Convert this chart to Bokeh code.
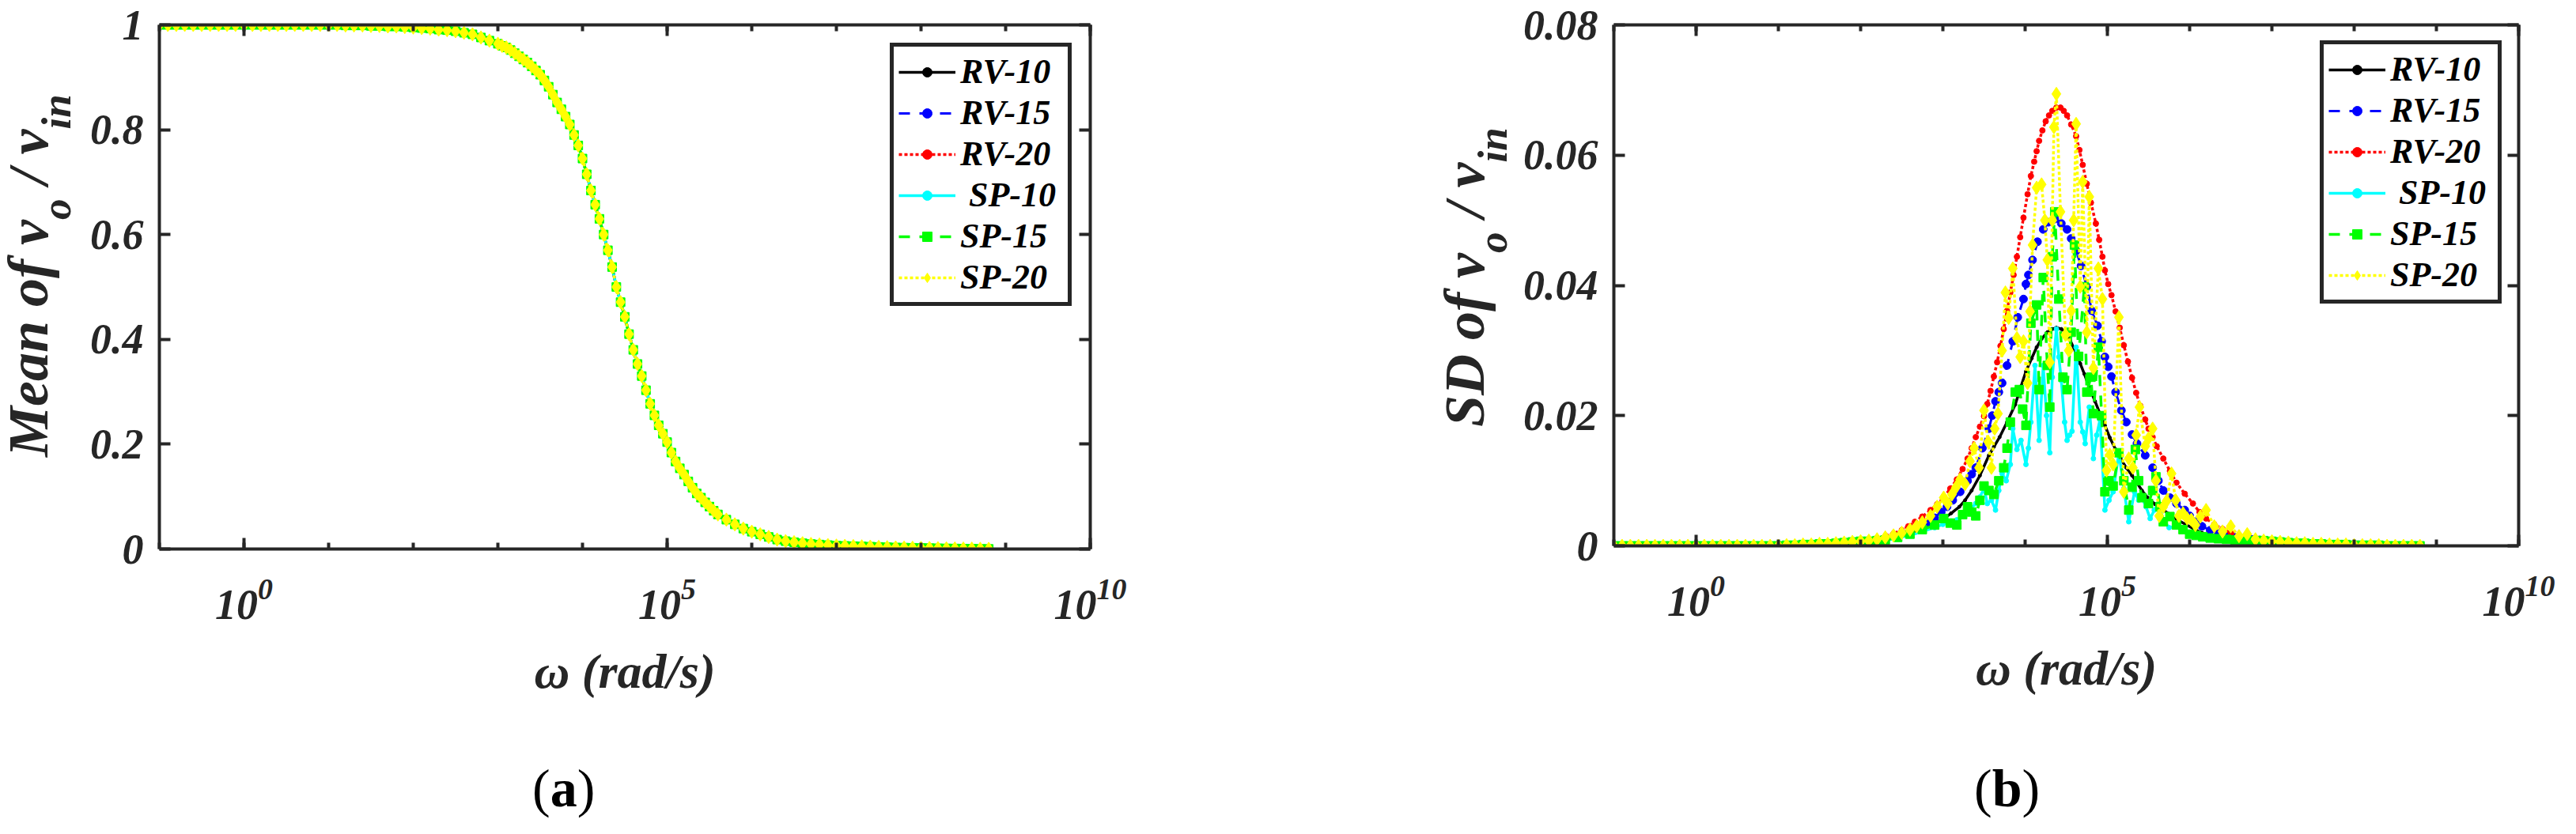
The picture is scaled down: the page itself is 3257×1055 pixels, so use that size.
import numpy as np
from bokeh.plotting import figure
from bokeh.models import (Range1d, FixedTicker, LinearAxis, LogAxis, Legend,
                          LegendItem, Div)
from bokeh.layouts import row, column
from bokeh.embed import file_html
from bokeh.resources import INLINE

FONT = "Liberation Serif"
AX = "#262626"

# ---------------- data ----------------
series_names = ["RV-10", "RV-15", "RV-20", "SP-10", "SP-15", "SP-20"]
legend_labels = ["RV-10", "RV-15", "RV-20", "\u00a0SP-10", "SP-15", "SP-20"]

# (a) mean of vo/vin: the six series coincide (one reading, log10 of omega)
mean_log_w = [-1.0, -0.9, -0.8, -0.7, -0.6, -0.5, -0.4, -0.3, -0.2, -0.1, 0.0,
              0.1, 0.2, 0.3, 0.4, 0.5, 0.6, 0.7, 0.8, 0.9, 1.0,
              1.1, 1.2, 1.3, 1.4, 1.5, 1.6, 1.7, 1.8, 1.9, 2.0,
              2.1, 2.2, 2.3, 2.4, 2.5, 2.6, 2.7, 2.8, 2.9,
              3.0, 3.05, 3.1, 3.15, 3.2, 3.25, 3.3, 3.35, 3.4, 3.45,
              3.5, 3.55, 3.6, 3.65, 3.7, 3.75, 3.8, 3.85, 3.9, 3.95,
              4.0, 4.05, 4.1, 4.15, 4.2, 4.25, 4.3, 4.35, 4.4, 4.45,
              4.5, 4.55, 4.6, 4.65, 4.7, 4.75, 4.8, 4.85, 4.9, 4.95,
              5.0, 5.05, 5.1, 5.15, 5.2, 5.25, 5.3, 5.35, 5.4, 5.45,
              5.5, 5.55, 5.6,
              5.7, 5.8, 5.9, 6.0, 6.1, 6.2, 6.3, 6.4, 6.5, 6.6, 6.7, 6.8, 6.9,
              7.0, 7.1, 7.2, 7.3, 7.4, 7.5, 7.6, 7.7, 7.8, 7.9, 8.0, 8.1, 8.2,
              8.3, 8.4, 8.5, 8.6, 8.7, 8.8]
mean_vals = [1.0, 1.0, 1.0, 1.0, 1.0, 1.0, 1.0, 1.0, 1.0, 1.0, 1.0,
             1.0, 1.0, 1.0, 1.0, 1.0, 1.0, 1.0, 1.0, 1.0, 1.0,
             1.0, 0.999, 0.999, 0.999, 0.998, 0.998, 0.997, 0.997, 0.996, 0.995,
             0.994, 0.993, 0.991, 0.990, 0.988, 0.985, 0.982, 0.976, 0.970,
             0.964, 0.960, 0.957, 0.952, 0.946, 0.940, 0.934, 0.928, 0.921, 0.913,
             0.905, 0.894, 0.882, 0.867, 0.852, 0.839, 0.825, 0.810, 0.790, 0.770,
             0.745, 0.715, 0.684, 0.657, 0.630, 0.600, 0.570, 0.538, 0.500, 0.471,
             0.443, 0.410, 0.380, 0.353, 0.330, 0.303, 0.277, 0.255, 0.236, 0.220,
             0.204, 0.184, 0.167, 0.154, 0.142, 0.129, 0.117, 0.106, 0.098, 0.089,
             0.081, 0.073, 0.066,
             0.056, 0.047, 0.039, 0.033, 0.028, 0.023, 0.018, 0.015, 0.013, 0.011,
             0.0095, 0.0085, 0.0075,
             0.0065, 0.006, 0.0055, 0.005, 0.0045, 0.004, 0.0035, 0.003, 0.0027,
             0.0024, 0.002, 0.0018, 0.0015,
             0.0012, 0.001, 0.0008, 0.0006, 0.0004, 0.0002]

# (b) SD of vo/vin : flat low-frequency and high-frequency parts (all series)
sd_lo_log_w = [-1.0, -0.9, -0.8, -0.7, -0.6, -0.5, -0.4, -0.3, -0.2, -0.1, 0.0,
               0.1, 0.2, 0.3, 0.4, 0.5, 0.6, 0.7, 0.8, 0.9, 1.0,
               1.1, 1.2, 1.3, 1.4, 1.5, 1.6, 1.7, 1.8, 1.9, 2.0]
sd_lo_vals = [0, 0, 0, 0, 0, 0, 0, 0, 0, 0, 0,
              0, 0, 0, 0, 0, 0, 0, 0, 0, 0,
              0.0001, 0.0001, 0.0002, 0.0002, 0.0003, 0.0003, 0.0004, 0.0005,
              0.0006, 0.0007]
sd_hi_log_w = [6.9, 7.0, 7.1, 7.2, 7.3, 7.4, 7.5, 7.6, 7.7, 7.8, 7.9, 8.0,
               8.1, 8.2, 8.3, 8.4, 8.5, 8.6, 8.7, 8.8]
sd_hi_vals = [0.0008, 0.0007, 0.0006, 0.0005, 0.0004, 0.0004, 0.0003, 0.0003,
              0.0002, 0.0002, 0.0002, 0.0001, 0.0001, 0.0001, 0.0001, 0, 0, 0, 0, 0]

rv10_log_w = [2.1, 2.2, 2.3, 2.4, 2.5, 2.6, 2.7, 2.8, 2.9, 3.0, 3.1, 3.2, 3.27,
              3.35, 3.45, 3.56, 3.62, 3.69, 3.78, 3.88, 3.95, 4.01, 4.08, 4.14,
              4.20, 4.27, 4.33, 4.38, 4.44, 4.49, 4.55, 4.62, 4.67, 4.72, 4.78,
              4.85, 4.91, 4.97, 5.03, 5.10, 5.16, 5.23, 5.30, 5.36, 5.42, 5.49,
              5.58, 5.67, 5.75, 5.85, 5.95, 6.05, 6.15, 6.25, 6.35, 6.45, 6.55,
              6.65, 6.75, 6.85]
rv10_sd = [0.0008, 0.0009, 0.0011, 0.0013, 0.0016, 0.0019, 0.0023, 0.0028,
           0.0034, 0.0041, 0.0050, 0.0060, 0.0070, 0.0085, 0.0108, 0.0139,
           0.0152, 0.0167, 0.0190, 0.0217, 0.0245, 0.0268, 0.0288, 0.0305,
           0.0318, 0.0328, 0.0333, 0.0335, 0.0333, 0.0328, 0.0315, 0.0296,
           0.0280, 0.0264, 0.0243, 0.0222, 0.0203, 0.0185, 0.0166, 0.0148,
           0.0134, 0.0120, 0.0108, 0.0097, 0.0085, 0.0074, 0.0064, 0.0056,
           0.0049, 0.0040, 0.0033, 0.0026, 0.0020, 0.0016, 0.0013, 0.0011,
           0.0010, 0.0009, 0.0009, 0.0008]

rv15_log_w = [2.1, 2.2, 2.3, 2.4, 2.5, 2.6, 2.7, 2.8, 2.9, 2.98, 3.05, 3.12,
              3.21, 3.30, 3.35, 3.40, 3.48, 3.56, 3.60, 3.64, 3.68, 3.72, 3.78,
              3.85, 3.91, 3.98, 4.01, 4.04, 4.09, 4.15, 4.22, 4.28, 4.36, 4.44,
              4.51, 4.56, 4.62, 4.68, 4.75, 4.81, 4.88, 4.93, 4.97, 5.01, 5.05,
              5.10, 5.17, 5.23, 5.30, 5.36, 5.46, 5.55, 5.62, 5.68, 5.76, 5.84,
              5.94, 6.0, 6.07, 6.15, 6.25, 6.35, 6.45, 6.55, 6.65, 6.75, 6.85]
rv15_sd = [0.0008, 0.0010, 0.0012, 0.0015, 0.0019, 0.0023, 0.0028, 0.0035,
           0.0043, 0.0052, 0.0060, 0.0070, 0.0083, 0.0100, 0.0110, 0.0120,
           0.0150, 0.0180, 0.0200, 0.0222, 0.0236, 0.0250, 0.0277, 0.0314,
           0.0351, 0.0379, 0.0402, 0.0416, 0.0439, 0.0467, 0.0486, 0.0497,
           0.0502, 0.0495, 0.0486, 0.0472, 0.0453, 0.0430, 0.0398, 0.0361,
           0.0338, 0.0314, 0.0290, 0.0275, 0.0260, 0.0236, 0.0208, 0.0190,
           0.0171, 0.0157, 0.0139, 0.0120, 0.0100, 0.0085, 0.0074, 0.0065,
           0.0055, 0.0046, 0.0037, 0.0030, 0.0024, 0.0019, 0.0015, 0.0013,
           0.0011, 0.0010, 0.0009]

rv20_log_w = [2.1, 2.2, 2.31, 2.4, 2.5, 2.58, 2.66, 2.75, 2.85, 2.93, 3.01,
              3.09, 3.17, 3.24, 3.30, 3.35, 3.40, 3.45, 3.50, 3.54, 3.58, 3.62,
              3.66, 3.70, 3.74, 3.78, 3.82, 3.86, 3.90, 3.94, 3.98, 4.03, 4.07,
              4.11, 4.14, 4.17, 4.21, 4.25, 4.29, 4.33, 4.38, 4.43, 4.47, 4.51,
              4.56, 4.62, 4.66, 4.70, 4.75, 4.80, 4.86, 4.90, 4.94, 4.97, 5.01,
              5.05, 5.10, 5.15, 5.20, 5.25, 5.30, 5.35, 5.40, 5.46, 5.50, 5.55,
              5.60, 5.68, 5.76, 5.84, 5.94, 6.04, 6.12, 6.20, 6.30, 6.40, 6.50,
              6.60, 6.70, 6.80]
rv20_sd = [0.0010, 0.0012, 0.0015, 0.0019, 0.0024, 0.0030, 0.0037, 0.0045,
           0.0055, 0.0064, 0.0074, 0.0088, 0.0102, 0.0118, 0.0134, 0.0150,
           0.0167, 0.0183, 0.0199, 0.0218, 0.0238, 0.0260, 0.0282, 0.0307,
           0.0333, 0.0361, 0.0389, 0.0416, 0.0444, 0.0474, 0.0504, 0.0540,
           0.0568, 0.0590, 0.0606, 0.0622, 0.0638, 0.0652, 0.0661, 0.0668,
           0.0673, 0.0673, 0.0668, 0.0661, 0.0647, 0.0629, 0.0608, 0.0585,
           0.0556, 0.0527, 0.0495, 0.0470, 0.0444, 0.0423, 0.0402, 0.0385,
           0.0360, 0.0335, 0.0308, 0.0283, 0.0258, 0.0235, 0.0215, 0.0194,
           0.0180, 0.0167, 0.0153, 0.0134, 0.0115, 0.0097, 0.0080, 0.0065,
           0.0052, 0.0042, 0.0033, 0.0026, 0.0020, 0.0016, 0.0012, 0.0010]

sp10_log_w = [2.1, 2.2, 2.3, 2.45, 2.6, 2.75, 2.9, 3.0, 3.1, 3.17, 3.24, 3.32,
              3.40, 3.45, 3.50, 3.54, 3.59, 3.64, 3.68, 3.72, 3.77, 3.82, 3.85,
              3.90, 3.95, 4.01, 4.04, 4.07, 4.12, 4.17, 4.22, 4.26, 4.30, 4.33,
              4.38, 4.41, 4.44, 4.48, 4.51, 4.54, 4.57, 4.62, 4.67, 4.70, 4.73,
              4.78, 4.83, 4.87, 4.91, 4.97, 5.02, 5.07, 5.14, 5.20, 5.26, 5.33,
              5.38, 5.42, 5.47, 5.52, 5.57, 5.62, 5.68, 5.75, 5.83, 5.91, 6.0,
              6.07, 6.15, 6.25, 6.35, 6.45, 6.55, 6.65, 6.75, 6.85]
sp10_sd = [0.0006, 0.0007, 0.0008, 0.0012, 0.0016, 0.0022, 0.0028, 0.0033,
           0.0038, 0.0040, 0.0046, 0.0055, 0.0065, 0.0075, 0.0088, 0.0065,
           0.0070, 0.0055, 0.0085, 0.0111, 0.0100, 0.0125, 0.0180, 0.0148,
           0.0162, 0.0125, 0.0150, 0.0190, 0.0277, 0.0162, 0.0277, 0.0200,
           0.0143, 0.0259, 0.0333, 0.0290, 0.0254, 0.0190, 0.0162, 0.0170,
           0.0176, 0.0305, 0.0190, 0.0175, 0.0157, 0.0213, 0.0134, 0.0170,
           0.0194, 0.0055, 0.0070, 0.0083, 0.0143, 0.0088, 0.0037, 0.0083,
           0.0070, 0.0074, 0.0060, 0.0042, 0.0055, 0.0065, 0.0040, 0.0028,
           0.0030, 0.0023, 0.0018, 0.0014, 0.0012, 0.0010, 0.0009, 0.0008,
           0.0008, 0.0007, 0.0007, 0.0006]

sp15_log_w = [2.1, 2.2, 2.3, 2.45, 2.6, 2.75, 2.9, 3.01, 3.09, 3.17, 3.24,
              3.30, 3.35, 3.40, 3.45, 3.50, 3.56, 3.62, 3.68, 3.74, 3.78, 3.82,
              3.88, 3.93, 3.97, 4.01, 4.07, 4.14, 4.17, 4.22, 4.27, 4.30, 4.33,
              4.36, 4.41, 4.46, 4.51, 4.56, 4.60, 4.65, 4.72, 4.75, 4.80, 4.83,
              4.89, 4.93, 4.97, 5.02, 5.07, 5.14, 5.20, 5.26, 5.30, 5.34, 5.38,
              5.42, 5.50, 5.55, 5.59, 5.64, 5.68, 5.76, 5.84, 5.92, 6.00, 6.08,
              6.16, 6.25, 6.35, 6.45, 6.55, 6.65, 6.75, 6.85]
sp15_sd = [0.0007, 0.0008, 0.0009, 0.0013, 0.0018, 0.0025, 0.0032, 0.0042,
           0.0035, 0.0032, 0.0048, 0.0060, 0.0052, 0.0046, 0.0070, 0.0092,
           0.0085, 0.0079, 0.0100, 0.0120, 0.0150, 0.0190, 0.0236, 0.0240,
           0.0210, 0.0185, 0.0342, 0.0370, 0.0240, 0.0412, 0.0277, 0.0213,
           0.0444, 0.0513, 0.0379, 0.0259, 0.0240, 0.0328, 0.0462, 0.0291,
           0.0398, 0.0236, 0.0259, 0.0203, 0.0305, 0.0200, 0.0083, 0.0100,
           0.0092, 0.0143, 0.0100, 0.0055, 0.0090, 0.0148, 0.0100, 0.0074,
           0.0065, 0.0085, 0.0106, 0.0060, 0.0037, 0.0045, 0.0032, 0.0025,
           0.0018, 0.0016, 0.0014, 0.0012, 0.0011, 0.0010, 0.0009, 0.0009,
           0.0008, 0.0008]

sp20_log_w = [2.1, 2.2, 2.3, 2.4, 2.5, 2.6, 2.68, 2.75, 2.85, 2.93, 3.01, 3.06,
              3.11, 3.16, 3.21, 3.27, 3.33, 3.38, 3.44, 3.50, 3.55, 3.59, 3.63,
              3.67, 3.72, 3.76, 3.80, 3.85, 3.90, 3.94, 3.98, 4.03, 4.06, 4.09,
              4.14, 4.20, 4.24, 4.27, 4.30, 4.33, 4.35, 4.38, 4.43, 4.49, 4.53,
              4.56, 4.59, 4.62, 4.67, 4.70, 4.75, 4.78, 4.83, 4.89, 4.94, 4.99,
              5.03, 5.07, 5.14, 5.20, 5.26, 5.31, 5.35, 5.39, 5.46, 5.50, 5.55,
              5.59, 5.63, 5.68, 5.72, 5.78, 5.83, 5.87, 5.92, 5.97, 6.02, 6.07,
              6.13, 6.20, 6.30, 6.40, 6.50, 6.60, 6.70, 6.80]
sp20_sd = [0.0008, 0.0010, 0.0013, 0.0016, 0.0020, 0.0025, 0.0030, 0.0036,
           0.0046, 0.0060, 0.0074, 0.0065, 0.0079, 0.0090, 0.0102, 0.0095,
           0.0130, 0.0150, 0.0120, 0.0208, 0.0160, 0.0120, 0.0180, 0.0203,
           0.0300, 0.0389, 0.0350, 0.0426, 0.0319, 0.0290, 0.0314, 0.0250,
           0.0360, 0.0462, 0.0550, 0.0555, 0.0500, 0.0439, 0.0282, 0.0500,
           0.0643, 0.0694, 0.0513, 0.0324, 0.0300, 0.0361, 0.0500, 0.0648,
           0.0398, 0.0559, 0.0328, 0.0536, 0.0273, 0.0426, 0.0379, 0.0116,
           0.0140, 0.0125, 0.0351, 0.0083, 0.0134, 0.0120, 0.0170, 0.0213,
           0.0153, 0.0165, 0.0180, 0.0100, 0.0046, 0.0060, 0.0069, 0.0111,
           0.0070, 0.0046, 0.0050, 0.0042, 0.0040, 0.0032, 0.0045, 0.0055,
           0.0030, 0.0022, 0.0030, 0.0015, 0.0018, 0.0010]

sd_mid_log_w = [rv10_log_w, rv15_log_w, rv20_log_w, sp10_log_w, sp15_log_w, sp20_log_w]
sd_mid_vals = [rv10_sd, rv15_sd, rv20_sd, sp10_sd, sp15_sd, sp20_sd]

x_major_ticks = [1e0, 1e5, 1e10]
x_minor_ticks = [1e-1, 1e0, 1e1, 1e2, 1e3, 1e4, 1e5, 1e6, 1e7, 1e8, 1e9, 1e10]
ya_ticks = [0, 0.2, 0.4, 0.6, 0.8, 1]
ya_labels = ["0", "0.2", "0.4", "0.6", "0.8", "1"]
yb_ticks = [0, 0.02, 0.04, 0.06, 0.08]
yb_labels = ["0", "0.02", "0.04", "0.06", "0.08"]

# ---------------- styles ----------------
colors = ["#000000", "#0000ff", "#ff0000", "#00ffff", "#00ff00", "#ffff00"]
dashes = ["solid", "14 12", "4 3", "solid", "14 12", "4 3"]
markers = ["circle", "circle", "circle", "circle", "square", "diamond"]
msizes = [4, 10, 7, 6, 11, 17]
lwidths = [3.5, 3, 3.5, 3.5, 3.5, 3.5]

TICK_FS = "54px"
LABEL_FS = "62px"
H1 = 940       # height of the plot row
HCAP = 96      # height of the caption row


def style_axis(ax, labels=True):
    ax.axis_line_color = AX
    ax.axis_line_width = 4
    ax.major_tick_line_color = AX
    ax.major_tick_line_width = 4
    ax.minor_tick_line_color = AX
    ax.minor_tick_line_width = 4
    ax.major_tick_in = 14
    ax.major_tick_out = 0
    ax.minor_tick_in = 8
    ax.minor_tick_out = 0
    ax.major_label_text_font = FONT
    ax.major_label_text_font_style = "bold italic"
    ax.major_label_text_color = AX
    if labels:
        ax.major_label_text_font_size = TICK_FS
    else:
        ax.major_label_text_font_size = "8px"
        ax.major_label_text_alpha = 0.0
        ax.major_label_standoff = 0


def make_panel(b_left, b_top, frame_w, frame_h, fig_w, y_end, y_ticks, y_labels):
    p = figure(x_axis_type="log", x_range=Range1d(1e-1, 1e10),
               y_range=Range1d(0, y_end),
               frame_width=frame_w, frame_height=frame_h,
               min_border_left=b_left, min_border_top=b_top,
               min_border_right=fig_w - b_left - frame_w,
               min_border_bottom=H1 - b_top - frame_h,
               toolbar_location=None, tools="", output_backend="svg")
    p.grid.visible = False
    p.outline_line_color = None
    p.background_fill_color = "white"
    p.border_fill_color = "white"

    xt = FixedTicker(ticks=x_major_ticks, minor_ticks=x_minor_ticks)
    yt = FixedTicker(ticks=y_ticks, minor_ticks=[])
    p.xaxis.ticker = xt
    p.yaxis.ticker = yt
    p.yaxis.major_label_overrides = {t: s for t, s in zip(y_ticks, y_labels)}
    style_axis(p.xaxis[0])
    style_axis(p.yaxis[0])
    p.xaxis.major_label_standoff = 38
    p.yaxis.major_label_standoff = 20
    p.xaxis.axis_label = "\u03c9 (rad/s)"
    p.xaxis.axis_label_text_font = FONT
    p.xaxis.axis_label_text_font_style = "bold italic"
    p.xaxis.axis_label_text_font_size = LABEL_FS
    p.xaxis.axis_label_text_color = AX
    p.xaxis.axis_label_standoff = 29

    top = LogAxis(ticker=xt)
    style_axis(top, labels=False)
    p.add_layout(top, "above")
    right = LinearAxis(ticker=yt)
    style_axis(right, labels=False)
    p.add_layout(right, "right")
    return p


def add_series(p, xs_log, ys, i):
    w = [10.0 ** v for v in xs_log]
    lr = p.line(w, ys, line_color=colors[i], line_width=lwidths[i],
                line_dash=dashes[i])
    sr = p.scatter(w, ys, marker=markers[i], size=msizes[i],
                   fill_color=colors[i], line_color=colors[i])
    return [lr, sr]


def add_legend(p, rends, loc):
    items = [LegendItem(label=legend_labels[i], renderers=rends[i])
             for i in range(6)]
    lg = Legend(items=items, location=loc, padding=6, spacing=1, margin=0,
                glyph_width=72, glyph_height=30, label_height=50,
                label_width=130, label_standoff=6,
                label_text_font=FONT, label_text_font_style="bold italic",
                label_text_font_size="44px", label_text_color="black",
                border_line_color=AX, border_line_width=5,
                border_line_alpha=1.0,
                background_fill_color="white", background_fill_alpha=1.0)
    p.add_layout(lg)


def ylabel_div(width, left, top, main, sub1, mid, sub2):
    sub = "font-size:53px;vertical-align:-29px;"
    html = (
        f'<div style="position:relative;width:{width}px;height:{H1}px;">'
        f'<div style="position:absolute;left:{left}px;top:{top}px;'
        'transform-origin:0 0;transform:rotate(-90deg);white-space:nowrap;'
        f"font-family:'{FONT}';font-style:italic;font-weight:bold;"
        f'font-size:72px;line-height:72px;color:{AX};">'
        f'{main}<span style="{sub}">{sub1}</span>{mid}'
        f'<span style="{sub}">{sub2}</span></div></div>'
    )
    return Div(text=html, width=width, height=H1, margin=0)


# ---- panel (a) ----
pa = make_panel(b_left=101, b_top=26, frame_w=1177, frame_h=663, fig_w=1540,
                y_end=1, y_ticks=ya_ticks, y_labels=ya_labels)
ra = [add_series(pa, mean_log_w, mean_vals, i) for i in range(6)]
add_legend(pa, ra, (924, 307))

# ---- panel (b) ----
pb = make_panel(b_left=118, b_top=31, frame_w=1144, frame_h=659, fig_w=1318,
                y_end=0.08, y_ticks=yb_ticks, y_labels=yb_labels)
rb = []
for i in range(6):
    xs = sd_lo_log_w + sd_mid_log_w[i] + sd_hi_log_w
    ys = sd_lo_vals + sd_mid_vals[i] + sd_hi_vals
    rb.append(add_series(pb, xs, ys, i))
add_legend(pb, rb, (893, 306))

# ---- axis titles with subscripts, and panel captions ----
ya = ylabel_div(100, 0, 578, "Mean of v", "o", " / v", "in")
yb = ylabel_div(282, 176, 540, "SD of v", "o", " / v", "in")

cap_html = (
    f'<div style="position:relative;width:3240px;height:{HCAP}px;'
    f"font-family:'{FONT}';font-size:68px;line-height:68px;color:#000;\">"
    '<span style="position:absolute;left:673px;top:23px;white-space:nowrap;">'
    '(<b>a</b>)</span>'
    '<span style="position:absolute;left:2496px;top:23px;white-space:nowrap;">'
    '(<b>b</b>)</span></div>'
)
caps = Div(text=cap_html, width=3240, height=HCAP, margin=0)

layout = column(row(ya, pa, yb, pb, spacing=0), caps, spacing=0)
open("out.html", "w").write(file_html(layout, INLINE))
